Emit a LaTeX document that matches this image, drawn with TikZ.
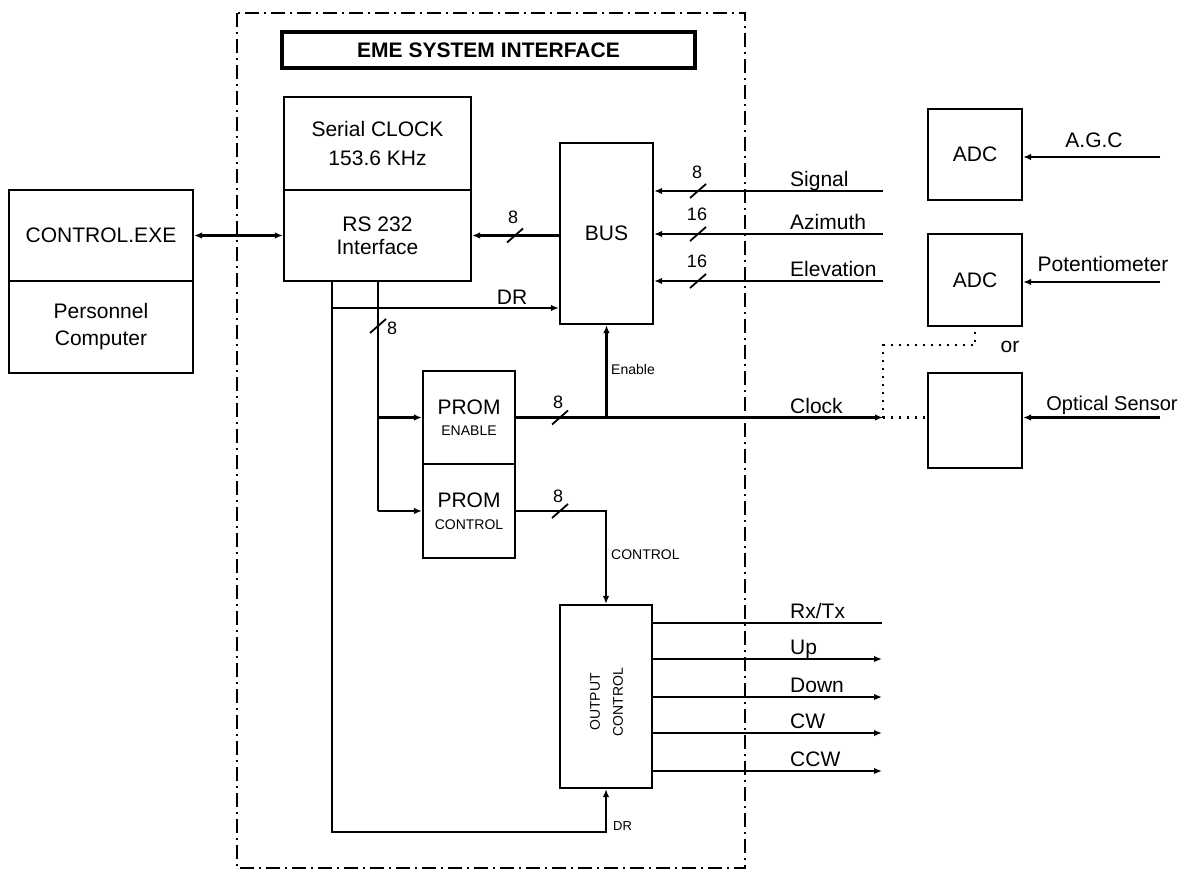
\documentclass[tikz,border=0pt]{standalone}
\usepackage{fontspec}
\setmainfont{Liberation Sans}
\usetikzlibrary{arrows.meta}
\begin{document}
\begin{tikzpicture}[x=1pt,y=-1pt,
  box/.style={draw, line width=2.2pt, inner sep=0pt, align=center, font=\fontsize{21}{25}\selectfont},
  wire/.style={line width=2.2pt},
  arr/.style={wire, -{Latex[length=8pt,width=6.5pt]}},
  darr/.style={wire, {Latex[length=8pt,width=6.5pt]}-{Latex[length=8pt,width=6.5pt]}},
  lbl/.style={font=\fontsize{21}{25}\selectfont, inner sep=0pt},
  tiny/.style={font=\fontsize{14}{16}\selectfont, inner sep=0pt},
  num/.style={font=\fontsize{18}{20}\selectfont, inner sep=0pt},
  frame/.style={line width=2.2pt, dash pattern=on 14pt off 5pt on 2pt off 5pt},
  dots/.style={line width=2.2pt, dash pattern=on 2pt off 6pt},
  bslash/.pic={\draw[line width=1.8pt] (-8,7) -- (8,-7);}
]
\useasboundingbox (0,0) rectangle (1188,872);
\fill[white] (0,0) rectangle (1188,872);

% system frame
\draw[frame] (237,13) rectangle (745,868);
\node[box, line width=3.2pt, minimum width=413pt, minimum height=36pt,
      font=\bfseries\fontsize{21}{24}\selectfont] (title) at (488.5,50) {EME SYSTEM INTERFACE};

% boxes
\node[box, minimum width=184pt, minimum height=91pt] (pc) at (101,235.5) {CONTROL.EXE};
\node[box, minimum width=184pt, minimum height=92pt] (pcb) at (101,327) {Personnel\\[2pt]Computer};
\node[box, minimum width=187pt, minimum height=93pt] (sclk) at (377.5,143.5) {Serial CLOCK\\[4pt]153.6 KHz};
\node[box, minimum width=187pt, minimum height=91pt] (rs) at (377.5,235.5) {RS 232\\[-2pt]Interface};
\node[box, minimum width=93pt, minimum height=181pt] (bus) at (606.5,233.5) {BUS};
\node[box, minimum width=92pt, minimum height=93pt] (prome) at (469,417.5) {PROM\\[-3.5pt]\fontsize{14}{16}\selectfont ENABLE};
\node[box, minimum width=92pt, minimum height=94pt] (promc) at (469,511) {PROM\\[-3.5pt]\fontsize{14}{16}\selectfont CONTROL};
\node[box, minimum width=92pt, minimum height=183pt] (outc) at (606,696.5) {};
\node[rotate=90, align=center, inner sep=0pt, font=\fontsize{14}{23}\selectfont] (outct) at (606.5,702) {OUTPUT\\CONTROL};
\node[box, minimum width=94pt, minimum height=91pt] (adc1) at (975,154.5) {ADC};
\node[box, minimum width=94pt, minimum height=92pt] (adc2) at (975,280) {ADC};
\node[box, minimum width=94pt, minimum height=95pt] (adc3) at (975,420.5) {};

% coordinates
\coordinate (sig) at (883,191);
\coordinate (azi) at (883,234);
\coordinate (ele) at (883,281);
\coordinate (lb) at (332,832);
\coordinate (drj) at (332,308);
\coordinate (pv) at (378,511);
\coordinate (clk) at (883,417.5);
\coordinate (rx) at (882,623);
\coordinate (up) at (882,659);
\coordinate (dn) at (882,697);
\coordinate (cw) at (882,733);
\coordinate (ccw) at (882,771);
\coordinate (agc) at (1160,157);
\coordinate (pot) at (1160,282);
\coordinate (opt) at (1160,417.5);
\coordinate (dk) at (883,345);

% connectors
\draw[darr] (pc.east) -- (rs.west);
\draw[arr] (rs.east -| bus.west) -- (rs.east);
\draw[arr] (sig) -- (sig -| bus.east);
\draw[arr] (azi) -- (azi -| bus.east);
\draw[arr] (ele) -- (ele -| bus.east);
\draw[arr] (rs.south -| lb) -- (lb) -- (lb -| outc.south) -- (outc.south);
\draw[arr] (drj) -- (drj -| bus.west);
\draw[wire] (rs.south -| pv) -- (pv);
\draw[arr] (pv |- prome.west) -- (prome.west);
\draw[arr] (pv) -- (promc.west);
\draw[arr] (prome.east) -- (clk);
\draw[arr] (bus.south |- prome.east) -- (bus.south);
\draw[arr] (promc.east) -- (promc.east -| outc.north) -- (outc.north);
\draw[wire] (rx -| outc.east) -- (rx);
\draw[arr] (up -| outc.east) -- (up);
\draw[arr] (dn -| outc.east) -- (dn);
\draw[arr] (cw -| outc.east) -- (cw);
\draw[arr] (ccw -| outc.east) -- (ccw);
\draw[arr] (agc) -- (agc -| adc1.east);
\draw[arr] (pot) -- (pot -| adc2.east);
\draw[arr] (opt) -- (opt -| adc3.east);
\draw[dots] (clk) -- (clk -| adc3.west);
\draw[dots] (clk) -- (dk) -- (dk -| adc2.south) -- (adc2.south);

% bus width slashes
\pic at (698,191) {bslash};
\pic at (698,234) {bslash};
\pic at (698,281) {bslash};
\pic at (515,235.5) {bslash};
\pic at (560,417.5) {bslash};
\pic at (560,511) {bslash};
\pic at (378,326) {bslash};
\node[num] (n1) at (697,172) {8};
\node[num] (n2) at (697,214) {16};
\node[num] (n3) at (697,261) {16};
\node[num] (n4) at (513,217) {8};
\node[num] (n5) at (558,402) {8};
\node[num] (n6) at (558,496) {8};
\node[num, anchor=west] (n7) at (387,328) {8};

% labels
\node[lbl, anchor=base west] (lsig) at (790,186) {Signal};
\node[lbl, anchor=base west] (lazi) at (790,229) {Azimuth};
\node[lbl, anchor=base west] (lele) at (790,276) {Elevation};
\node[lbl, anchor=base west] (lclk) at (790,413) {Clock};
\node[lbl, anchor=base west] (lrx) at (790,618) {Rx/Tx};
\node[lbl, anchor=base west] (lup) at (790,654) {Up};
\node[lbl, anchor=base west] (ldn) at (790,692) {Down};
\node[lbl, anchor=base west] (lcw) at (790,728) {CW};
\node[lbl, anchor=base west] (lccw) at (790,766) {CCW};
\node[lbl, anchor=base] (lagc) at (1094,147) {A.G.C};
\node[lbl, anchor=base] (lpot) at (1103,271) {Potentiometer};
\node[lbl, anchor=base, font=\fontsize{20}{24}\selectfont] (lopt) at (1112,410) {Optical Sensor};
\node[lbl, anchor=base] (lor) at (1010,352) {or};
\node[lbl, anchor=base] (ldr) at (512,304) {DR};
\node[tiny, anchor=west] (len) at (611,369) {Enable};
\node[tiny, anchor=west] (lctl) at (611,555) {CONTROL};
\node[tiny, font=\fontsize{13}{15}\selectfont, anchor=west] (ldr2) at (613,826) {DR};
\end{tikzpicture}
\end{document}
